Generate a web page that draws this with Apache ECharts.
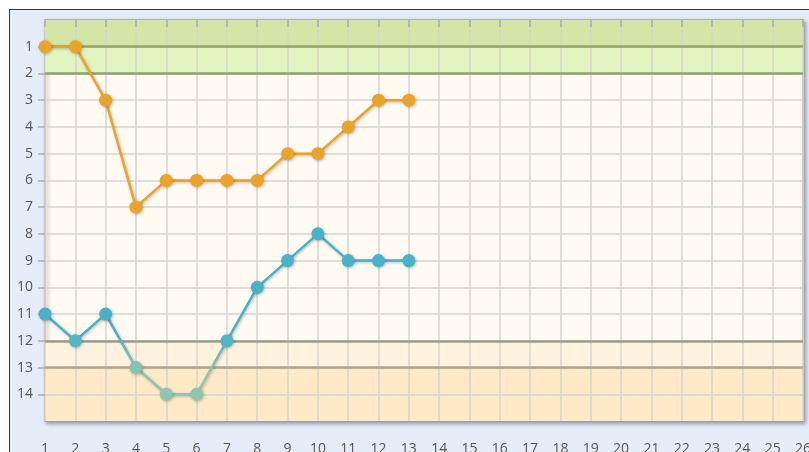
<!DOCTYPE html>
<html>
<head>
<meta charset="utf-8">
<script src="https://cdn.jsdelivr.net/npm/echarts@6/dist/echarts.min.js"></script>
<style>
  html, body { margin: 0; padding: 0; background: #fff; overflow: hidden; }
  .frame {
    position: absolute; left: 9px; top: 9px; width: 820px; height: 460px;
    border-top: 1px solid #3a3a3a; border-left: 1px solid #3a3a3a;
    background: #e4edf8;
  }
  #chart { position: absolute; left: 0; top: 0; width: 809px; height: 452px; }
</style>
</head>
<body>
<div class="frame"></div>
<div id="chart"></div>
<script>
// matchdays and positions
const rounds = [1, 2, 3, 4, 5, 6, 7, 8, 9, 10, 11, 12, 13]
const teamA = [1, 1, 3, 7, 6, 6, 6, 6, 5, 5, 4, 3, 3]
const teamB = [11, 12, 11, 13, 14, 14, 12, 10, 9, 8, 9, 9, 9]
const positionTicks = [1, 2, 3, 4, 5, 6, 7, 8, 9, 10, 11, 12, 13, 14]

// table zones: [from, to, colour]
const zones = [
  [0, 1, '#d4e6a5'],
  [1, 2, '#e2f4c0'],
  [12, 13, '#fff2df'],
  [13, 15, '#feeac6']
]
const zoneLines = [
  [1, '#93a86a'],
  [2, '#8fa270'],
  [12, '#a09a92'],
  [13, '#b3a38b']
]

const chart = echarts.init(document.getElementById('chart'))

const pairs = (ys) => rounds.map((r, i) => [r, ys[i]])

const lineShadow = {
  shadowColor: 'rgba(0,0,0,0.25)',
  shadowBlur: 3,
  shadowOffsetX: 1,
  shadowOffsetY: 1
}

const option = {
  animation: false,
  textStyle: { fontFamily: 'Open Sans' },
  grid: {
    left: 45, top: 20, width: 758, height: 401,
    outerBoundsMode: 'none',
    containLabel: false,
    show: true,
    backgroundColor: '#fffbf3',
    borderColor: '#a0a0a0',
    borderWidth: 1.5,
    shadowColor: 'rgba(0,0,0,0.35)',
    shadowBlur: 4,
    shadowOffsetX: 2,
    shadowOffsetY: 2
  },
  xAxis: {
    type: 'value',
    min: 1, max: 26, interval: 1,
    z: 3,
    axisLine: { show: false },
    axisTick: { show: true, length: 7, lineStyle: { color: '#aaa', width: 1.5 } },
    axisLabel: { margin: 21, fontSize: 14, color: '#555', fontFamily: 'Open Sans' },
    splitLine: { show: true, lineStyle: { color: '#d6d4d0', width: 1.5 } }
  },
  yAxis: {
    type: 'value',
    inverse: true,
    min: 0, max: 15, interval: 1,
    z: 3,
    axisLine: { show: false },
    axisTick: { show: true, length: 7, customValues: positionTicks, lineStyle: { color: '#aaa', width: 1.5 } },
    axisLabel: { margin: 12, fontSize: 14, color: '#555', fontFamily: 'Open Sans', customValues: positionTicks },
    splitLine: { show: true, lineStyle: { color: '#d6d4d0', width: 1.5 } }
  },
  visualMap: {
    show: false,
    type: 'continuous',
    seriesIndex: 2,
    dimension: 1,
    min: 11.8,
    max: 13.2,
    inRange: { color: ['#48b3c8', '#8fc6b3'] }
  },
  series: [
    {
      type: 'line',
      z: 1,
      silent: true,
      data: [],
      markArea: {
        silent: true,
        data: zones.map(z => [
          { yAxis: z[0], itemStyle: { color: z[2] } },
          { yAxis: z[1] }
        ])
      },
      markLine: {
        silent: true,
        symbol: 'none',
        label: { show: false },
        data: zoneLines.map(l => ({ yAxis: l[0], lineStyle: { color: l[1], width: 2.5, type: 'solid' } }))
      }
    },
    {
      name: 'A',
      type: 'line',
      z: 5,
      data: pairs(teamA),
      symbol: 'circle',
      symbolSize: 13,
      lineStyle: Object.assign({ color: '#eaa42a', width: 2.5 }, lineShadow),
      itemStyle: Object.assign({ color: '#eaa42a' }, lineShadow)
    },
    {
      name: 'B',
      type: 'line',
      z: 5,
      data: pairs(teamB),
      symbol: 'circle',
      symbolSize: 13,
      lineStyle: Object.assign({ width: 2.5 }, lineShadow),
      itemStyle: lineShadow
    }
  ]
}

chart.setOption(option)
</script>
</body>
</html>
